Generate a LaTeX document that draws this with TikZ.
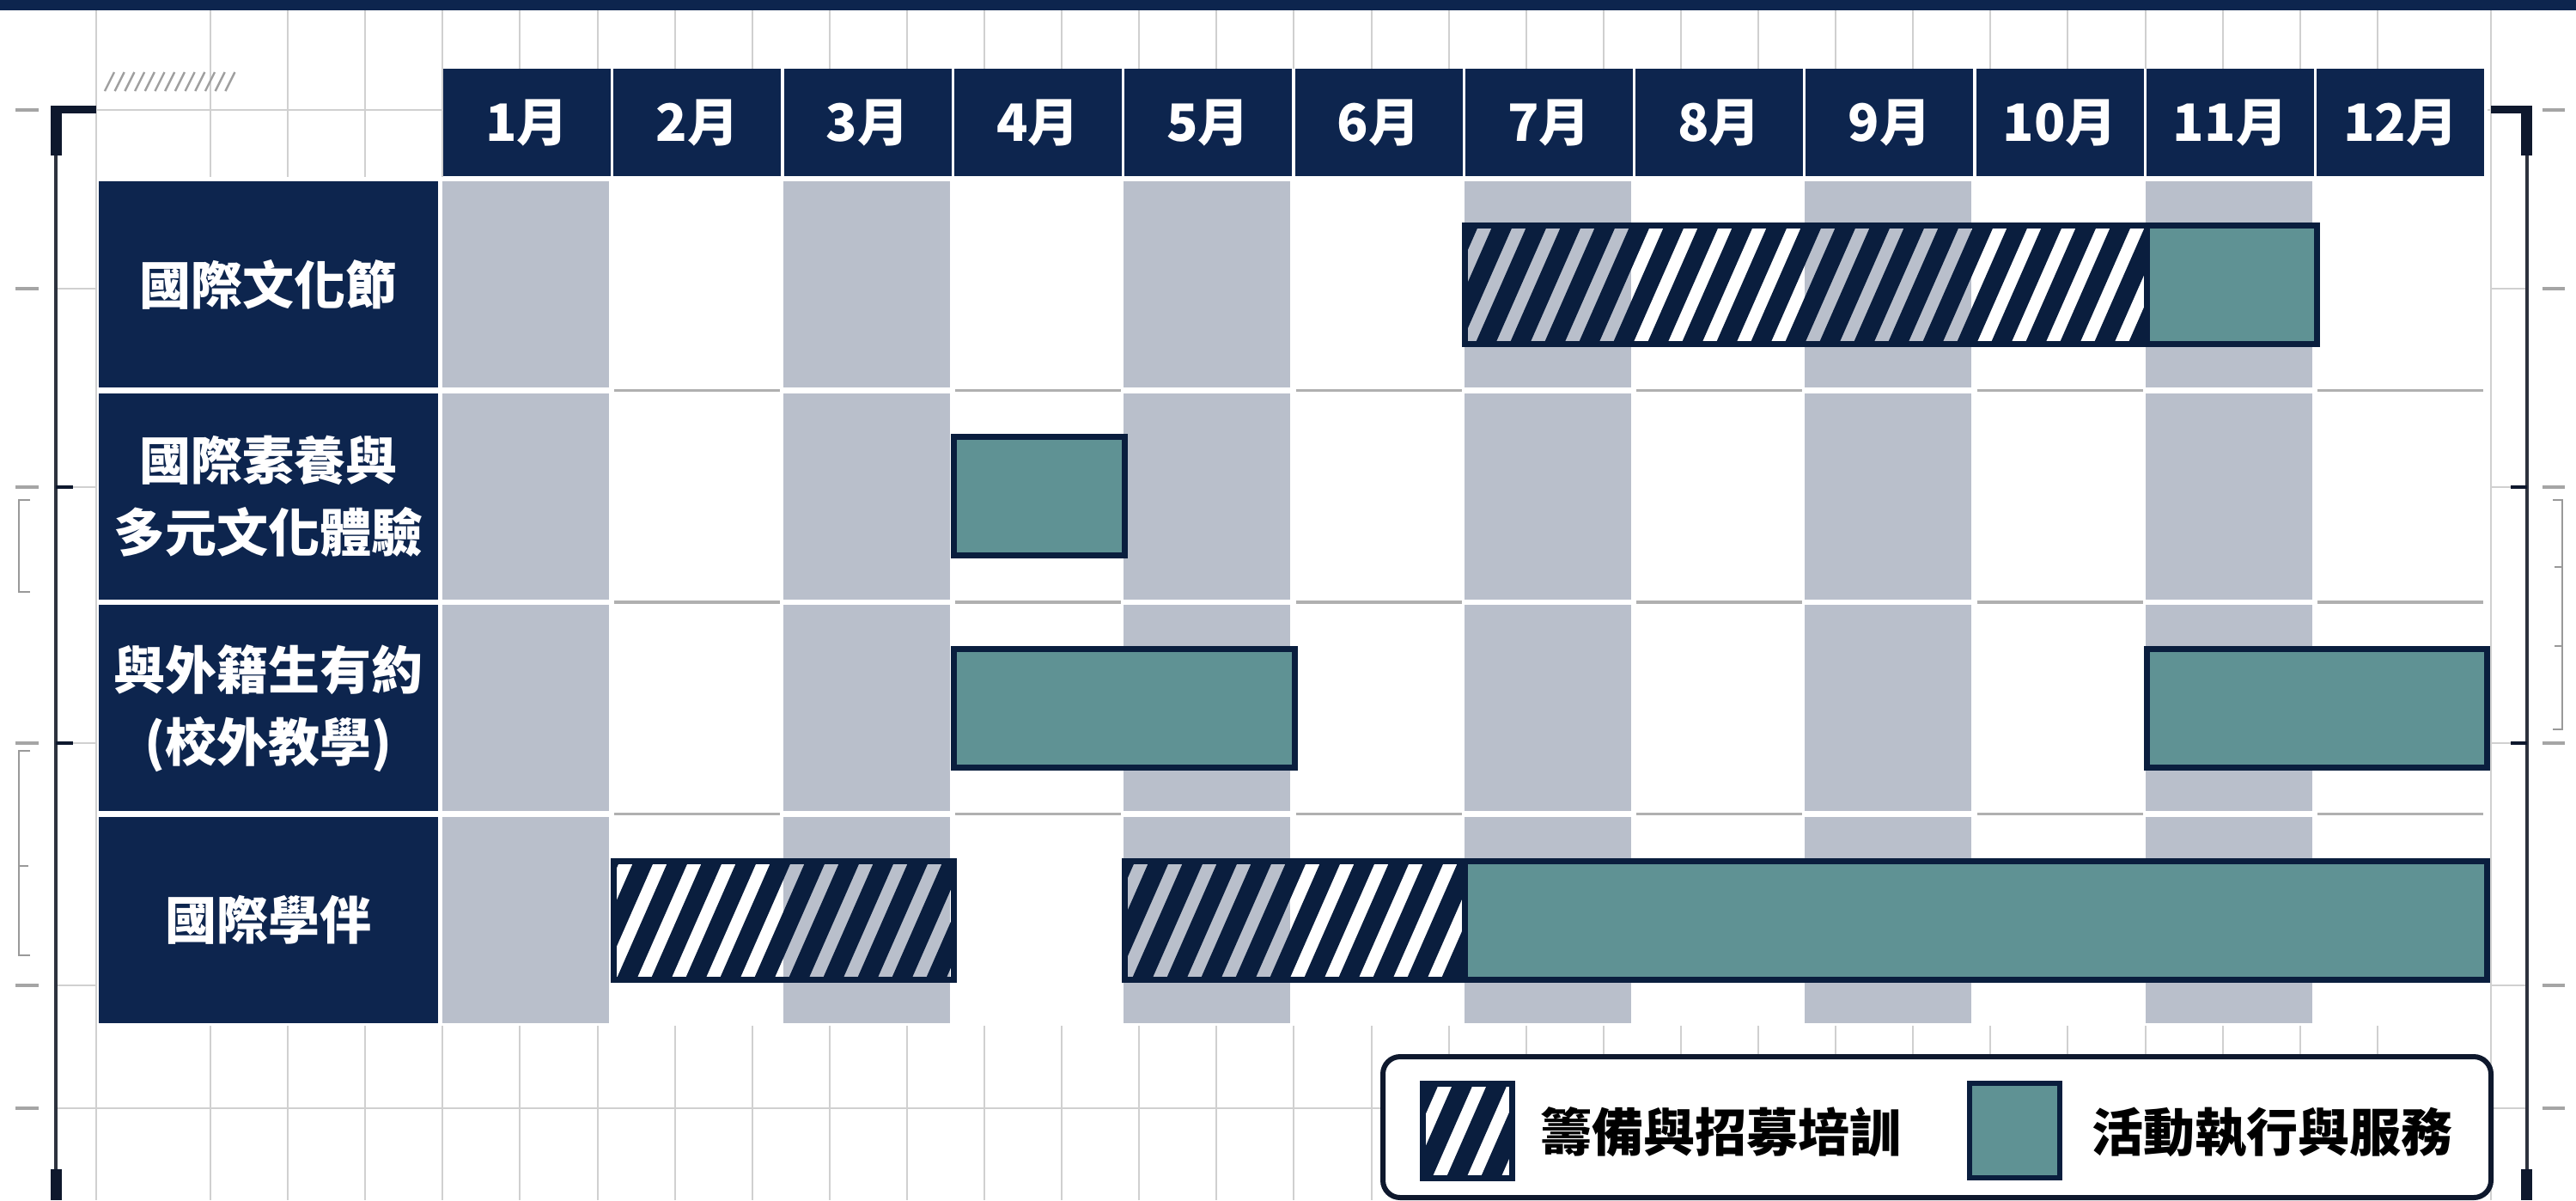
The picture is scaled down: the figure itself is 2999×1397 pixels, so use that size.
\documentclass[tikz,border=0pt]{standalone}
\usepackage{fontspec}
\newfontfamily\cjk{Noto Sans CJK TC}
\definecolor{navy}{RGB}{13,37,78}
\definecolor{bardark}{RGB}{10,30,62}
\definecolor{band}{RGB}{185,191,203}
\definecolor{tealfill}{RGB}{95,146,148}
\definecolor{gridc}{RGB}{208,208,208}
\definecolor{sepc}{RGB}{176,176,176}
\definecolor{framec}{RGB}{45,50,62}
\definecolor{blk}{RGB}{14,24,45}
\definecolor{tickc}{RGB}{165,165,165}
\tikzset{
  declare function={bx(\m)=516+(\m-1)*198.3; rt(\r)=211+(\r-1)*246.7; rc(\r)=331+(\r-1)*246.7;},
  monthcell/.style={fill=navy, text=white, inner sep=0pt, minimum width=48.75pt, minimum height=31.25pt,
    font=\cjk\bfseries\fontsize{15}{17}\selectfont},
  labelbox/.style={fill=navy, text=white, inner sep=0pt, minimum width=98.75pt, minimum height=60pt,
    align=center, font=\cjk\bfseries\fontsize{15}{21}\selectfont},
  barline/.style={draw=bardark, line width=1.75pt},
  tealbar/.style={fill=tealfill, barline},
  stripe/.style={draw=bardark, line width=5.4pt},
  gridline/.style={draw=gridc, line width=0.5pt},
  sepline/.style={draw=sepc, line width=0.8pt},
  legtext/.style={anchor=west, inner sep=0pt, text=black, font=\cjk\bfseries\fontsize{15}{18}\selectfont},
  bracketline/.style={draw=gray!80, line width=0.5pt},
}
\newcommand{\hatchseg}[4]{% x1, x2, yc, half height
  \begin{scope}
    \clip ({#1},{#3-#4}) rectangle ({#2},{#3+#4});
    \pgfmathtruncatemacro{\hka}{(#1)/40-4}
    \pgfmathtruncatemacro{\hkb}{(#2)/40+1}
    \foreach \hk in {\hka,...,\hkb} {\draw[stripe] ({\hk*40},{#3+90}) -- ++(79,-180);}
  \end{scope}
  \draw[barline] ({#1},{#3-#4}) rectangle ({#2},{#3+#4});
}
\begin{document}
\begin{tikzpicture}[x=0.25pt,y=-0.25pt]
\useasboundingbox (0,0) rectangle (2999,1397);
\fill[white] (0,0) rectangle (2999,1397);
% background grid
\foreach \k in {0,...,28} {\draw[gridline] ({245+\k*90.1},12) -- ({245+\k*90.1},1397);}
\draw[gridline] (112,12) -- (112,1397);
\draw[gridline] (2900,12) -- (2900,1397);
\draw[gridline] (65,128) -- (2942,128);
\draw[gridline] (65,1290) -- (2942,1290);
\foreach \yy in {336,567,865,1147} {
  \draw[gridline] (65,\yy) -- (112,\yy);
  \draw[gridline] (2900,\yy) -- (2942,\yy);
}
% white covers
\fill[white] (115,206) rectangle (2897,1194);
\fill[white] (516,80) rectangle (2896,206);
% shaded month bands
\foreach \mm in {1,3,5,7,9,11} {
  \foreach \r in {1,...,4} {
    \fill[band] ({bx(\mm)-1},{rt(\r)}) rectangle ({bx(\mm)+193},{rt(\r)+240});
  }
}
% row separators in white columns
\foreach \mm in {2,4,6,8,10,12} {
  \foreach \yy in {454.3,701,947.7} {
    \draw[sepline] ({bx(\mm)+1},\yy) -- ({bx(\mm)+194},\yy);
  }
}
% header cells
\foreach \mm in {1,...,12} {
  \node[monthcell] (m\mm) at ({bx(\mm)+97.5},142.5) {\mm 月};
}
% row labels
\node[labelbox] (r1) at (312.5,{rc(1)}) {國際文化節};
\node[labelbox] (r2) at (312.5,{rc(2)}) {國際素養與\\多元文化體驗};
\node[labelbox] (r3) at (312.5,{rc(3)}) {與外籍生有約\\(校外教學)};
\node[labelbox] (r4) at (312.5,{rc(4)}) {國際學伴};
% bars row 1
\hatchseg{bx(7)}{bx(11)}{rc(1)}{69}
\draw[tealbar] ({bx(11)},{rc(1)-69}) rectangle ({bx(12)},{rc(1)+69});
% row 2
\draw[tealbar] ({bx(4)},{rc(2)-69}) rectangle ({bx(5)},{rc(2)+69});
% row 3
\draw[tealbar] ({bx(4)},{rc(3)-69}) rectangle ({bx(6)},{rc(3)+69});
\draw[tealbar] ({bx(11)},{rc(3)-69}) rectangle ({bx(13)},{rc(3)+69});
% row 4
\hatchseg{bx(2)}{bx(4)}{rc(4)}{69}
\hatchseg{bx(5)}{bx(7)}{rc(4)}{69}
\draw[tealbar] ({bx(7)},{rc(4)-69}) rectangle ({bx(13)},{rc(4)+69});
% legend
\draw[draw=blk, line width=1.5pt, fill=white, rounded corners=5pt] (1610,1230) rectangle (2900,1394);
\hatchseg{1656}{1760}{1316}{55}
\draw[tealbar, line width=1.3pt] (2293,1261) rectangle (2398,1371);
\node[legtext] (l1) at (1793,1318) {籌備與招募培訓};
\node[legtext] (l2) at (2435,1318) {活動執行與服務};
% top bar
\fill[navy] (0,0) rectangle (2999,12);
% frame
\draw[framec, line width=1pt] (65,128) -- (65,1397);
\draw[framec, line width=1pt] (2942,128) -- (2942,1397);
\fill[blk] (60,123) rectangle (112,132);
\fill[blk] (59,123) rectangle (72,181);
\fill[blk] (59,1361) rectangle (72,1397);
\fill[blk] (2900,123) rectangle (2948,132);
\fill[blk] (2935,123) rectangle (2948,181);
\fill[blk] (2935,1361) rectangle (2948,1397);
\foreach \yy in {128,336,567,865,1147,1290} {
  \draw[tickc, line width=0.8pt] (18,\yy) -- (45,\yy);
  \draw[tickc, line width=0.8pt] (2960,\yy) -- (2986,\yy);
}
\draw[blk, line width=0.9pt] (65,567) -- (85,567);
\draw[blk, line width=0.9pt] (65,865) -- (85,865);
\draw[blk, line width=0.9pt] (2923,567) -- (2942,567);
\draw[blk, line width=0.9pt] (2923,865) -- (2942,865);
% small brackets
\draw[bracketline] (35,582) -- (22,582) -- (22,689) -- (35,689);
\draw[bracketline] (35,874) -- (22,874) -- (22,1112) -- (35,1112);
\draw[bracketline] (22,1008) -- (33,1008);
\draw[bracketline] (2972,582) -- (2983,582) -- (2983,849) -- (2972,849);
\draw[bracketline] (2983,660) -- (2974,660);
\draw[bracketline] (2983,752) -- (2974,752);
% top-left hatch decoration
\foreach \i in {0,...,12} {\draw[gray!75, line width=0.6pt] ({122+\i*11.7},106) -- ++(11,-22);}
\end{tikzpicture}
\end{document}
